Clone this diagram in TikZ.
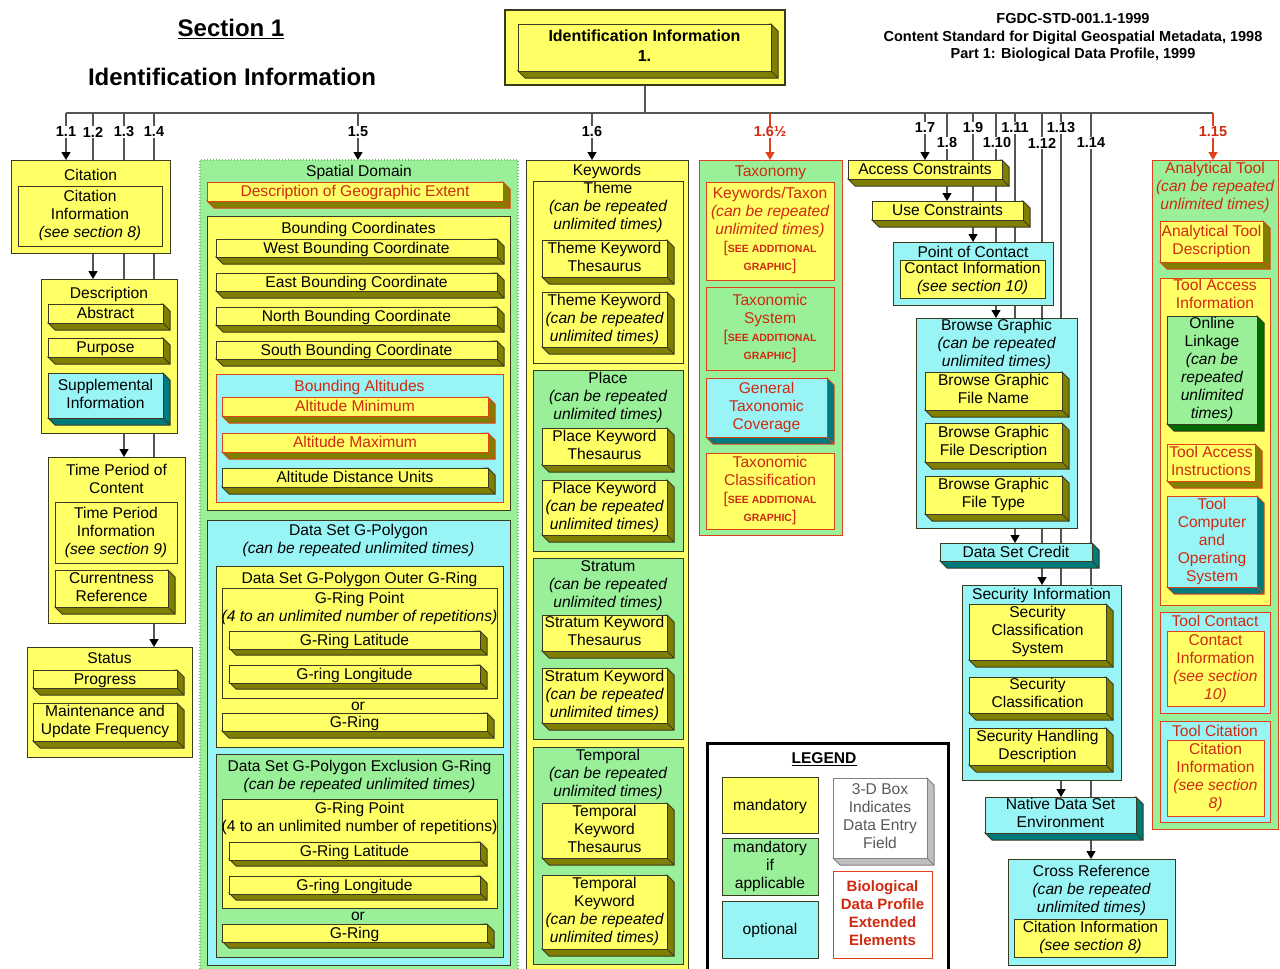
\documentclass[tikz,border=0pt]{standalone}
\usepackage{fontspec}
\setmainfont{Liberation Sans}
\usetikzlibrary{arrows.meta}
\pgfdeclarelayer{back}
\pgfdeclarelayer{bg}
\pgfsetlayers{back,bg,main}
\definecolor{yel}{HTML}{FFFF66}
\definecolor{grn}{HTML}{99F099}
\definecolor{cyn}{HTML}{99F5F5}
\definecolor{olv}{HTML}{7F7F00}
\definecolor{tea}{HTML}{007A7A}
\definecolor{dgr}{HTML}{006A00}
\definecolor{bdr}{HTML}{3A3A20}
\definecolor{rdb}{HTML}{E0401A}
\definecolor{rdt}{HTML}{D02A10}
\definecolor{lin}{HTML}{555555}
\definecolor{sdb}{HTML}{70C070}
\newcommand\stru{\rule[-3.6pt]{0pt}{18pt}}
\newcommand\sagf{\fontsize{10.5}{18}\selectfont\bfseries}
\newcommand\SAG{[{\sagf SEE ADDITIONAL}\\{\sagf GRAPHIC}]}
\newcommand\mkbox[7][]{\node[#1,anchor=north west,minimum width={#5-#3},minimum height={#6-#4}] (#2) at (#3,#4) {#7};}
\newcommand\mkcont[8][]{%
  \node[#1,anchor=north west,minimum width={#5-#3},minimum height={#6-#4}] (#2) at (#3,#4) {};
  \node[#1,draw=none,fill=none,minimum width=0pt,minimum height=0pt] (#2-t) at ({(#3+#5)/2},#8) {#7};}
\newcommand\mkthree[8][]{%
  \path[#1,fill=#2] (#4,#7) -- (#4+7,#7+7) -- (#6+7,#7+7) -- (#6+7,#5+7) -- (#6,#5) -- cycle;
  \path[#1] (#6,#7) -- (#6+7,#7+7);
  \mkbox[#1]{#3}{#4}{#5}{#6}{#7}{#8}}
\tikzset{
  tx/.style={inner sep=0pt,outer sep=0pt,align=center,font=\fontsize{15.6}{18}\selectfont,
    execute at begin node=\stru,execute at end node=\stru},
  bxs/.style={tx,line width=1pt,draw=bdr},
  Y/.style={bxs,fill=yel},
  G/.style={bxs,fill=grn},
  C/.style={bxs,fill=cyn},
  W/.style={bxs,fill=white},
  R/.style={draw=rdb,text=rdt},
  con/.style={draw=lin,line width=1.3pt,-{Triangle[width=9pt,length=8pt,color=black]}},
  rcon/.style={draw=rdb,line width=1.3pt,-{Triangle[width=9pt,length=8pt,color=rdb]}},
  lab/.style={fill=white,inner sep=1pt,font=\fontsize{14.5}{16}\selectfont\bfseries},
  rlab/.style={lab,text=rdt},
  bus/.style={draw=lin,line width=2pt},
}
\begin{document}
\begin{tikzpicture}[x=1pt,y=-1pt]
\useasboundingbox (0,0) rectangle (1280,969);
\begin{pgfonlayer}{back}
\fill[white] (0,0) rectangle (1280,969);
\end{pgfonlayer}

% ---------- header ----------
\node[tx,font=\fontsize{24}{28}\selectfont\bfseries] (sec1) at (231,30) {\underline{Section 1}};
\node[tx,font=\fontsize{24}{28}\selectfont\bfseries] (sect) at (232,79) {Identification Information};
\node[tx,font=\fontsize{14.5}{17.5}\selectfont\bfseries] (std) at (1073,38)
  {FGDC-STD-001.1-1999\\Content Standard for Digital Geospatial Metadata, 1998\\Part 1: Biological Data Profile, 1999};
\node[Y,line width=1.5pt,anchor=north west,minimum width=280,minimum height=75] (idbox) at (505,10) {};
\mkthree[Y,font=\fontsize{16}{20}\selectfont\bfseries]{olv}{idin}{518}{24}{771}{71}{Identification Information\\1.}

% ---------- bus ----------
\coordinate (p11) at (66,113);  \coordinate (p12) at (93,113);
\coordinate (p13) at (124,113); \coordinate (p14) at (154,113);
\coordinate (p15) at (358,113); \coordinate (p16) at (592,113);
\coordinate (p165) at (770,113);
\coordinate (p17) at (925,113); \coordinate (p18) at (947,113);
\coordinate (p19) at (973,113); \coordinate (p110) at (996,113);
\coordinate (p111) at (1015,113); \coordinate (p112) at (1042,113);
\coordinate (p113) at (1061,113); \coordinate (p114) at (1091,113);
\coordinate (p115) at (1213,113);

% ---------- column 1 ----------
\mkcont[Y]{cit}{11}{160}{170}{253}{Citation}{175}
\mkbox[Y]{citi}{18}{186}{162}{246}{Citation\\Information\\{\itshape (see section 8)}}
\mkcont[Y]{desc}{41}{279}{177}{433}{Description}{293}
\mkthree[Y]{olv}{abs}{48}{304}{163}{323}{Abstract}
\mkthree[Y]{olv}{purp}{48}{338}{163}{357}{Purpose}
\mkthree[C]{tea}{supp}{48}{373}{163}{418}{Supplemental\\Information}
\mkcont[Y]{time}{48}{457}{185}{623}{Time Period of\\Content}{481}
\mkbox[Y]{timei}{55}{502}{177}{563}{Time Period\\Information\\{\itshape (see section 9)}}
\mkthree[Y]{olv}{curr}{55}{570}{168}{607}{Currentness\\Reference}
\mkcont[Y]{stat}{27}{647}{192}{757}{Status}{658}
\mkthree[Y]{olv}{prog}{33}{670}{177}{688}{Progress}
\mkthree[Y]{olv}{maint}{33}{703}{177}{741}{Maintenance and\\Update Frequency}

% ---------- Spatial Domain ----------
\mkcont[G,draw=sdb,dotted,line width=1.5pt]{spat}{200}{160}{518}{975}{Spatial Domain}{171}
\mkthree[Y,R]{olv}{dge}{207}{182}{503}{201}{Description of Geographic Extent}
\mkcont[Y]{bc}{207}{216}{510}{510}{Bounding Coordinates}{228}
\mkthree[Y]{olv}{west}{216}{239}{497}{257}{West Bounding Coordinate}
\mkthree[Y]{olv}{east}{216}{273}{497}{291}{East Bounding Coordinate}
\mkthree[Y]{olv}{north}{216}{307}{497}{325}{North Bounding Coordinate}
\mkthree[Y]{olv}{south}{216}{341}{497}{359}{South Bounding Coordinate}
\mkcont[C,R]{balt}{216}{374}{503}{502}{Bounding Altitudes}{386}
\mkthree[Y,R]{olv}{amin}{222}{397}{488}{416}{Altitude Minimum}
\mkthree[Y,R]{olv}{amax}{222}{433}{488}{452}{Altitude Maximum}
\mkthree[Y]{olv}{adu}{222}{468}{488}{487}{Altitude Distance Units}
\mkcont[C]{gpol}{207}{520}{510}{965}{Data Set G-Polygon\\{\itshape (can be repeated unlimited times)}}{541}
\mkcont[Y]{ogr}{216}{566}{503}{747}{Data Set G-Polygon Outer G-Ring}{578}
\mkcont[Y]{grp1}{222}{588}{497}{698}{G-Ring Point\\{\itshape (4 to an unlimited number of repetitions)}}{609}
\mkthree[Y]{olv}{lat1}{229}{631}{480}{648}{G-Ring Latitude}
\mkthree[Y]{olv}{lon1}{229}{665}{480}{682}{G-ring Longitude}
\node[tx] (or1) at (358,705) {or};
\mkthree[Y]{olv}{gr1}{222}{713}{487}{731}{G-Ring}
\mkcont[G]{egr}{216}{754}{503}{957}{Data Set G-Polygon Exclusion G-Ring\\{\itshape (can be repeated unlimited times)}}{777}
\mkcont[Y]{grp2}{222}{799}{497}{908}{G-Ring Point\\(4 to an unlimited number of repetitions)}{819}
\mkthree[Y]{olv}{lat2}{229}{842}{480}{859}{G-Ring Latitude}
\mkthree[Y]{olv}{lon2}{229}{876}{480}{893}{G-ring Longitude}
\node[tx] (or2) at (358,915) {or};
\mkthree[Y]{olv}{gr2}{222}{924}{487}{941}{G-Ring}

% ---------- Keywords ----------
\mkcont[Y]{kw}{526}{160}{688}{975}{Keywords}{170}
\mkcont[Y]{thm}{533}{181}{683}{363}{Theme\\{\itshape (can be repeated}\\{\itshape unlimited times)}}{208}
\mkthree[Y]{olv}{tkt}{542}{240}{667}{277}{Theme Keyword\\Thesaurus}
\mkthree[Y]{olv}{tk}{542}{292}{667}{347}{Theme Keyword\\{\itshape (can be repeated}\\{\itshape unlimited times)}}
\mkcont[G]{plc}{533}{370}{683}{551}{Place\\{\itshape (can be repeated}\\{\itshape unlimited times)}}{398}
\mkthree[Y]{olv}{pkt}{542}{428}{667}{465}{Place Keyword\\Thesaurus}
\mkthree[Y]{olv}{pk}{542}{480}{667}{535}{Place Keyword\\{\itshape (can be repeated}\\{\itshape unlimited times)}}
\mkcont[G]{str}{533}{558}{683}{739}{Stratum\\{\itshape (can be repeated}\\{\itshape unlimited times)}}{586}
\mkthree[Y]{olv}{skt}{542}{615}{667}{651}{Stratum Keyword\\Thesaurus}
\mkthree[Y]{olv}{sk}{542}{668}{667}{723}{Stratum Keyword\\{\itshape (can be repeated}\\{\itshape unlimited times)}}
\mkcont[G]{tmp}{533}{747}{683}{964}{Temporal\\{\itshape (can be repeated}\\{\itshape unlimited times)}}{775}
\mkthree[Y]{olv}{tekt}{542}{803}{667}{858}{Temporal\\Keyword\\Thesaurus}
\mkthree[Y]{olv}{tek}{542}{875}{667}{949}{Temporal\\Keyword\\{\itshape (can be repeated}\\{\itshape unlimited times)}}

% ---------- Taxonomy ----------
\mkcont[G,R]{tax}{699}{160}{842}{535}{Taxonomy}{171}
\mkbox[Y,R]{kwtx}{706}{182}{834}{280}{Keywords/Taxon\\{\itshape (can be repeated}\\{\itshape unlimited times)}\\\SAG}
\mkbox[G,R]{txs}{706}{287}{834}{370}{Taxonomic\\System\\\SAG}
\mkthree[C,R]{tea}{gtc}{706}{378}{827}{437}{General\\Taxonomic\\Coverage}
\mkbox[Y,R]{txc}{706}{453}{834}{529}{Taxonomic\\Classification\\\SAG}

% ---------- 1.7 - 1.14 ----------
\mkthree[Y]{olv}{acc}{848}{160}{1002}{179}{Access Constraints}
\mkthree[Y]{olv}{use}{872}{201}{1023}{220}{Use Constraints}
\mkcont[C]{poc}{893}{242}{1053}{305}{Point of Contact}{252}
\mkbox[Y]{poci}{900}{260}{1045}{298}{Contact Information\\{\itshape (see section 10)}}
\mkcont[C]{bg}{916}{318}{1077}{528}{Browse Graphic\\{\itshape (can be repeated}\\{\itshape unlimited times)}}{345}
\mkthree[Y]{olv}{bgfn}{925}{372}{1062}{410}{Browse Graphic\\File Name}
\mkthree[Y]{olv}{bgfd}{925}{423}{1062}{462}{Browse Graphic\\File Description}
\mkthree[Y]{olv}{bgft}{925}{476}{1062}{514}{Browse Graphic\\File Type}
\mkthree[C]{tea}{dsc}{940}{543}{1092}{561}{Data Set Credit}
\mkcont[C]{sec}{962}{585}{1121}{780}{Security Information}{594}
\mkthree[Y]{olv}{scs}{969}{604}{1106}{660}{Security\\Classification\\System}
\mkthree[Y]{olv}{sc}{969}{677}{1106}{713}{Security\\Classification}
\mkthree[Y]{olv}{shd}{969}{728}{1106}{765}{Security Handling\\Description}
\mkthree[C]{tea}{nat}{985}{797}{1136}{833}{Native Data Set\\Environment}
\mkcont[C]{xref}{1008}{859}{1175}{965}{Cross Reference\\{\itshape (can be repeated}\\{\itshape unlimited times)}}{891}
\mkbox[Y]{xrefi}{1014}{919}{1167}{957}{Citation Information\\{\itshape (see section 8)}}

% ---------- Analytical Tool ----------
\mkcont[G,R]{at}{1152}{160}{1278}{829}{Analytical Tool\\{\itshape (can be repeated}\\{\itshape unlimited times)}}{188}
\mkthree[Y,R]{olv}{atd}{1160}{221}{1263}{262}{Analytical Tool\\Description}
\mkcont[Y,R]{tai}{1160}{278}{1270}{605}{Tool Access\\Information}{296}
\mkthree[G,draw=bdr,text=black]{dgr}{ol}{1167}{316}{1257}{424}{Online\\Linkage\\{\itshape (can be}\\{\itshape repeated}\\{\itshape unlimited}\\{\itshape times)}}
\mkthree[Y,R]{olv}{tacc}{1167}{444}{1255}{481}{Tool Access\\Instructions}
\mkthree[C,R]{tea}{tcos}{1167}{496}{1257}{587}{Tool\\Computer\\and\\Operating\\System}
\mkcont[C,R]{tc}{1160}{612}{1270}{713}{Tool Contact}{621}
\mkbox[Y,R]{tci}{1167}{631}{1264}{706}{Contact\\Information\\{\itshape (see section}\\{\itshape 10)}}
\mkcont[C,R]{tcit}{1160}{721}{1270}{822}{Tool Citation}{731}
\mkbox[Y,R]{tciti}{1167}{740}{1264}{816}{Citation\\Information\\{\itshape (see section}\\{\itshape 8)}}

% ---------- Legend ----------
\node[draw=black,line width=3pt,fill=white,anchor=north west,minimum width=241,minimum height=240] (leg) at (706,742) {};
\node[tx,font=\fontsize{15.6}{18}\selectfont\bfseries] (legt) at (824,758) {\underline{LEGEND}};
\mkbox[Y]{lm}{722}{777}{818}{833}{mandatory}
\mkbox[G]{lma}{722}{838}{818}{895}{mandatory\\if\\applicable}
\mkbox[C]{lo}{722}{901}{818}{958}{optional}
\mkthree[W,draw=gray,text=black!65]{black!25}{l3d}{833}{778}{927}{858}{3-D Box\\Indicates\\Data Entry\\Field}
\mkbox[W,R,font=\fontsize{15}{18}\selectfont\bfseries]{lbio}{833}{871}{932}{958}{Biological\\Data Profile\\Extended\\Elements}

% ---------- labels ----------
\node[lab] (l11) at (66,132) {1.1};
\node[lab] (l12) at (93,132) {1.2};
\node[lab] (l13) at (124,132) {1.3};
\node[lab] (l14) at (154,132) {1.4};
\node[lab] (l15) at (358,132) {1.5};
\node[lab] (l16) at (592,132) {1.6};
\node[rlab] (l165) at (770,132) {1.6½};
\node[lab] (l17) at (925,128) {1.7};
\node[lab] (l18) at (947,143) {1.8};
\node[lab] (l19) at (973,128) {1.9};
\node[lab] (l110) at (997,143) {1.10};
\node[lab] (l111) at (1015,128) {1.11};
\node[lab] (l112) at (1042,143) {1.12};
\node[lab] (l113) at (1061,128) {1.13};
\node[lab] (l114) at (1091,143) {1.14};
\node[rlab] (l115) at (1213,132) {1.15};

% ---------- connectors ----------
\begin{pgfonlayer}{bg}
\draw[bus] (idbox.south) -- (idbox.south |- p11);
\draw[bus] (p11) -- (p115);
\draw[con] (p11) -- (p11 |- cit.north);
\draw[con] (p12) -- (p12 |- desc.north);
\draw[con] (p13) -- (p13 |- time.north);
\draw[con] (p14) -- (p14 |- stat.north);
\draw[con] (p15) -- (p15 |- spat.north);
\draw[con] (p16) -- (p16 |- kw.north);
\draw[rcon] (p165) -- (p165 |- tax.north);
\draw[con] (p17) -- (p17 |- acc.north);
\draw[con] (p18) -- (p18 |- use.north);
\draw[con] (p19) -- (p19 |- poc.north);
\draw[con] (p110) -- (p110 |- bg.north);
\draw[con] (p111) -- (p111 |- dsc.north);
\draw[con] (p112) -- (p112 |- sec.north);
\draw[con] (p113) -- (p113 |- nat.north);
\draw[con] (p114) -- (p114 |- xref.north);
\draw[rcon] (p115) -- (p115 |- at.north);
\end{pgfonlayer}
\end{tikzpicture}
\end{document}
